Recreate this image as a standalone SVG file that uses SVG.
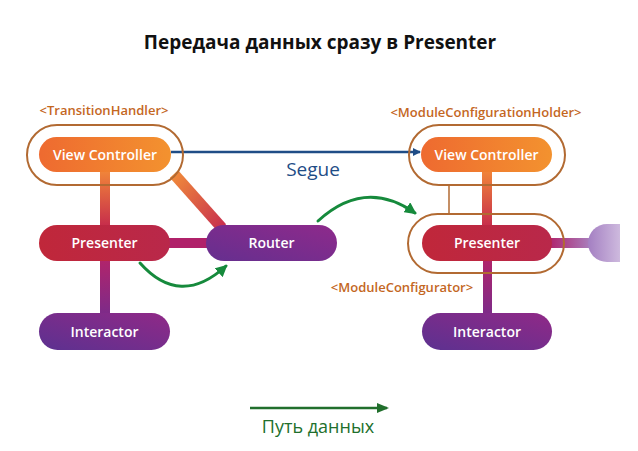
<svg xmlns="http://www.w3.org/2000/svg" width="638" height="451" viewBox="0 0 638 451">
<defs>
<linearGradient id="gVC" x1="0" y1="0" x2="1" y2="0"><stop offset="0" stop-color="#ee6a30"/><stop offset="1" stop-color="#f3922f"/></linearGradient>
<linearGradient id="gPr" x1="0" y1="0" x2="1" y2="0"><stop offset="0" stop-color="#c0273a"/><stop offset="1" stop-color="#b9284a"/></linearGradient>
<linearGradient id="gRo" x1="0" y1="1" x2="1" y2="0"><stop offset="0" stop-color="#652f8f"/><stop offset="1" stop-color="#8e2a8b"/></linearGradient>
<linearGradient id="gIn" x1="0" y1="1" x2="1" y2="0"><stop offset="0" stop-color="#5c3190"/><stop offset="1" stop-color="#902987"/></linearGradient>
<linearGradient id="gV1" x1="0" y1="0" x2="0" y2="1"><stop offset="0" stop-color="#f38a38"/><stop offset="1" stop-color="#c52a4c"/></linearGradient>
<linearGradient id="gV2" x1="0" y1="0" x2="0" y2="1"><stop offset="0" stop-color="#b3246a"/><stop offset="1" stop-color="#7b2b8a"/></linearGradient>
<linearGradient id="gDiag" x1="0" y1="0" x2="1" y2="1"><stop offset="0" stop-color="#f08a3a"/><stop offset="1" stop-color="#c8304e"/></linearGradient>
<linearGradient id="gFade" x1="0" y1="0" x2="1" y2="0"><stop offset="0" stop-color="#a47fc2"/><stop offset="1" stop-color="#ffffff"/></linearGradient>
<linearGradient id="gBar" x1="0" y1="0" x2="1" y2="0"><stop offset="0" stop-color="#b0206a"/><stop offset="1" stop-color="#a887c4"/></linearGradient>
<marker id="mBlue" markerWidth="8" markerHeight="8" refX="7" refY="4" orient="auto" markerUnits="userSpaceOnUse" viewBox="0 0 8 8"><path d="M0,0 L8,4 L0,8 Z" fill="#1f4d86"/></marker>
<marker id="mGreen" markerWidth="12" markerHeight="12" refX="10" refY="6" orient="auto" markerUnits="userSpaceOnUse" viewBox="0 0 12 12"><path d="M0,0 L12,6 L0,12 Z" fill="#168a3c"/></marker>
<marker id="mLeg" markerWidth="12" markerHeight="12" refX="10" refY="6" orient="auto" markerUnits="userSpaceOnUse" viewBox="0 0 12 12"><path d="M0,1 L12,6 L0,11 Z" fill="#216f2c"/></marker>
</defs>
<style>
.nt{font-family:"Open Sans","Noto Sans","DejaVu Sans",sans-serif;font-weight:600;font-size:14px;fill:#ffffff;text-anchor:middle}
.lb{font-family:"Open Sans","Noto Sans","DejaVu Sans",sans-serif;font-weight:600;font-size:13px;fill:#c4671f;text-anchor:middle}
.ol{fill:none;stroke:#b26a32;stroke-width:2}
.green{fill:none;stroke:#168a3c;stroke-width:3;stroke-linecap:round}
</style>
<rect width="638" height="451" fill="#ffffff"/>
<text x="320" y="49" text-anchor="middle" font-family="'Open Sans','Noto Sans','DejaVu Sans',sans-serif" font-weight="700" font-size="19" fill="#111111">Передача данных сразу в Presenter</text>

<g id="connectors">
<rect x="100" y="168" width="10" height="60" fill="url(#gV1)"/>
<rect x="100" y="258" width="10" height="58" fill="url(#gV2)"/>
<line x1="174" y1="174" x2="222" y2="228" stroke="url(#gDiag)" stroke-width="11"/>
<rect x="165" y="238" width="45" height="10" fill="#b0216a"/>
<rect x="482" y="168" width="10" height="60" fill="url(#gV1)"/>
<rect x="483" y="258" width="9" height="58" fill="url(#gV2)"/>
<rect x="548" y="238" width="46" height="10" fill="url(#gBar)"/>
<line x1="449" y1="185" x2="449" y2="215" stroke="#b26a32" stroke-width="1.5"/>
<line x1="171" y1="152" x2="420" y2="152" stroke="#1f4d86" stroke-width="2.5" marker-end="url(#mBlue)"/>
<path class="green" d="M140,263 Q180,308 226,266" marker-end="url(#mGreen)"/>
<path class="green" d="M318,221 Q365,178 415,213" marker-end="url(#mGreen)"/>
</g>

<text x="313" y="176" text-anchor="middle" font-family="'Open Sans','Noto Sans','DejaVu Sans',sans-serif" font-size="19" fill="#1f4d86">Segue</text>

<g id="transition-handler">
<rect class="ol" x="27" y="125" width="156" height="60" rx="30"/>
<text class="lb" x="104" y="115">&lt;TransitionHandler&gt;</text>
</g>
<g id="module-configuration-holder">
<rect class="ol" x="409" y="125" width="156" height="60" rx="30"/>
<text class="lb" x="486" y="117">&lt;ModuleConfigurationHolder&gt;</text>
</g>
<g id="module-configurator">
<rect class="ol" x="408" y="214" width="156" height="59" rx="29.5"/>
<text class="lb" x="402" y="292">&lt;ModuleConfigurator&gt;</text>
</g>

<g id="vc-left">
<rect x="39" y="137" width="132" height="35" rx="17.5" fill="url(#gVC)"/>
<text class="nt" x="105" y="159.5">View Controller</text>
</g>
<g id="presenter-left">
<rect x="39" y="225" width="131" height="36" rx="18" fill="url(#gPr)"/>
<text class="nt" x="104.5" y="248">Presenter</text>
</g>
<g id="router">
<rect x="206" y="225" width="131" height="36" rx="18" fill="url(#gRo)"/>
<text class="nt" x="271.5" y="248">Router</text>
</g>
<g id="interactor-left">
<rect x="39" y="313" width="131" height="37" rx="18.5" fill="url(#gIn)"/>
<text class="nt" x="104.5" y="336.5">Interactor</text>
</g>
<g id="vc-right">
<rect x="421" y="137" width="131" height="35" rx="17.5" fill="url(#gVC)"/>
<text class="nt" x="486.5" y="159.5">View Controller</text>
</g>
<g id="presenter-right">
<rect x="422" y="225" width="130" height="36" rx="18" fill="url(#gPr)"/>
<text class="nt" x="487" y="248">Presenter</text>
</g>
<g id="interactor-right">
<rect x="422" y="313" width="130" height="37" rx="18.5" fill="url(#gIn)"/>
<text class="nt" x="487" y="336.5">Interactor</text>
</g>
<g id="next-module">
<rect x="588" y="224" width="70" height="38" rx="19" fill="url(#gFade)"/>
<rect x="620" y="220" width="18" height="46" fill="#ffffff"/>
</g>

<g id="legend">
<line x1="250" y1="408" x2="387" y2="408" stroke="#216f2c" stroke-width="2.5" marker-end="url(#mLeg)"/>
<text x="318" y="433" text-anchor="middle" font-family="'Open Sans','Noto Sans','DejaVu Sans',sans-serif" font-size="18" fill="#216f2c">Путь данных</text>
</g>
</svg>
